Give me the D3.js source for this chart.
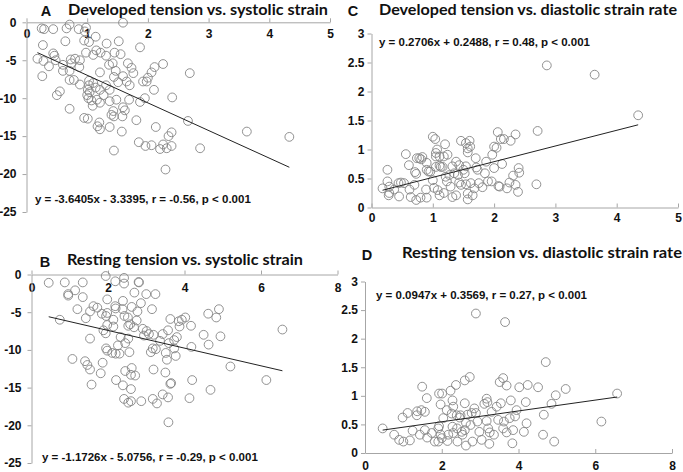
<!DOCTYPE html>
<html><head><meta charset="utf-8">
<script src="https://cdn.jsdelivr.net/npm/d3@7"></script>
<style>body{margin:0;background:#fff} svg{display:block}</style>
</head><body>
<svg id="c" width="683" height="472"></svg>
<script>
// Panel A: developed tension (x) vs systolic strain (y)
const devSys = [[0.25,-0.8],[0.29,-0.9],[0.44,-0.9],[0.71,-0.3],[0.66,-0.8],[0.86,-0.9],[0.98,-0.7],[0.96,-1.2],[1.59,-0.05],
[0.27,-3.0],[0.64,-2.5],[0.95,-2.4],[1.03,-2.6],[1.14,-1.9],[1.32,-2.8],[1.52,-2.5],[1.87,-3.3],[0.44,-4.1],[0.46,-4.4],[0.48,-5.0],
[0.18,-4.8],[0.28,-5.1],[0.37,-5.8],[0.60,-5.6],[0.60,-6.4],[0.73,-4.9],[0.74,-5.4],[0.80,-4.8],[0.88,-5.0],[0.87,-5.9],[0.71,-6.4],
[0.98,-4.0],[1.10,-4.3],[1.15,-3.7],[1.22,-4.0],[1.31,-4.4],[1.45,-4.0],[1.55,-4.2],[1.36,-5.6],[1.42,-5.4],[1.47,-6.4],[1.21,-6.6],
[1.67,-5.4],[1.73,-6.0],[1.76,-6.7],[1.59,-7.1],[1.44,-7.2],[1.65,-7.8],[1.51,-7.9],[1.70,-8.3],[2.11,-5.9],[2.25,-5.5],[2.69,-6.7],
[2.06,-6.6],[2.00,-7.3],[1.92,-7.8],[1.98,-7.8],[2.10,-8.9],[0.71,-7.6],[0.78,-7.6],[0.26,-7.1],[0.88,-8.2],[1.03,-7.7],[1.03,-8.3],
[1.10,-8.0],[1.01,-8.9],[1.04,-9.2],[1.14,-8.6],[1.21,-8.9],[1.31,-8.3],[1.37,-8.9],[1.27,-9.6],[0.55,-9.1],[0.50,-9.6],[1.00,-9.6],
[1.02,-10.0],[1.07,-10.3],[1.16,-10.2],[1.21,-10.6],[1.09,-11.0],[1.37,-10.4],[1.48,-10.2],[1.69,-10.2],[1.95,-10.0],[1.87,-10.5],
[2.40,-9.9],[0.71,-11.4],[1.43,-11.7],[1.59,-11.2],[1.62,-11.6],[1.40,-12.2],[1.44,-12.4],[1.58,-12.4],[0.95,-12.6],[1.01,-12.7],
[1.20,-13.2],[1.81,-12.9],[2.66,-13.0],[1.17,-13.7],[1.37,-13.8],[1.21,-14.1],[2.13,-13.8],[1.57,-14.4],[2.39,-14.5],[2.34,-15.0],
[3.63,-14.4],[4.33,-15.1],[1.85,-15.8],[1.96,-16.3],[2.06,-16.2],[2.25,-16.1],[2.31,-16.6],[2.39,-16.3],[2.20,-16.7],[1.44,-16.9],
[2.86,-16.6],[2.29,-19.4]];

// Panel B: resting tension (x) vs systolic strain (y)
const restSys = [[0.45,-1.1],[0.87,-1.05],[1.34,-1.05],[1.94,-0.2],[2.19,-0.9],[2.42,-0.45],[2.42,-1.2],[2.80,-1.0],[2.81,-1.05],
[1.14,-2.1],[0.96,-2.6],[0.96,-2.8],[1.34,-3.0],[1.20,-4.6],[1.62,-4.2],[1.72,-4.4],[1.53,-4.9],[1.42,-5.8],[0.74,-6.0],[1.98,-3.3],
[2.19,-4.2],[2.20,-4.5],[2.39,-3.5],[2.38,-4.6],[2.69,-2.4],[3.00,-2.6],[3.24,-2.6],[2.86,-3.8],[2.62,-4.3],[2.77,-4.9],[3.15,-4.6],
[1.84,-5.2],[1.98,-5.1],[1.95,-5.5],[2.14,-6.0],[2.43,-5.5],[2.52,-5.7],[2.58,-6.6],[2.53,-6.8],[2.75,-6.1],[2.68,-7.0],[2.14,-6.9],
[1.98,-6.7],[1.88,-7.4],[1.94,-7.8],[2.91,-7.2],[2.94,-8.1],[3.01,-7.5],[3.07,-7.9],[3.19,-8.0],[3.36,-8.8],[3.43,-7.9],[3.57,-7.4],
[3.63,-5.9],[3.73,-8.7],[3.80,-8.3],[3.87,-6.9],[3.85,-6.2],[3.93,-6.0],[4.02,-5.7],[4.17,-6.8],[4.50,-8.0],[4.62,-5.2],[4.63,-9.3],
[4.83,-5.7],[4.90,-4.6],[4.94,-8.2],[6.56,-7.3],[1.53,-8.5],[2.33,-8.3],[2.53,-8.5],[2.26,-9.4],[2.45,-9.1],[1.95,-9.8],[1.98,-10.1],
[2.11,-10.4],[2.20,-10.5],[2.30,-10.5],[2.56,-10.3],[3.12,-10.3],[3.17,-9.8],[3.25,-9.9],[3.51,-10.4],[3.59,-9.1],[3.73,-9.8],
[3.77,-10.8],[4.18,-9.6],[1.07,-11.2],[1.40,-11.5],[1.46,-12.0],[1.53,-12.6],[1.86,-11.7],[1.81,-13.1],[2.45,-12.8],[2.62,-12.4],
[2.60,-13.3],[2.71,-13.4],[3.19,-12.6],[3.54,-11.3],[3.50,-13.0],[5.20,-12.2],[1.57,-14.6],[2.21,-14.0],[2.39,-14.7],[2.60,-15.2],
[3.63,-14.5],[3.65,-14.4],[4.20,-14.0],[4.68,-15.3],[6.14,-14.0],[2.42,-16.5],[2.53,-17.0],[2.60,-16.8],[2.87,-16.8],[3.17,-16.5],
[3.28,-17.1],[3.43,-15.9],[3.57,-16.3],[4.13,-16.4],[3.58,-19.6]];

// Panel C: developed tension (x) vs diastolic strain rate (y)
const devDia = [[0.18,0.33],[0.26,0.65],[0.26,0.45],[0.29,0.36],[0.29,0.25],[0.28,0.21],[0.37,0.31],[0.44,0.42],[0.48,0.43],
[0.53,0.42],[0.45,0.19],[0.56,0.92],[0.61,0.73],[0.62,0.31],[0.64,0.18],[0.70,0.39],[0.71,0.61],[0.73,0.58],[0.74,0.85],[0.78,0.85],
[0.81,0.83],[0.83,0.87],[0.73,0.13],[0.80,0.17],[0.90,0.77],[0.90,0.65],[0.89,0.31],[0.90,0.17],[0.93,0.62],[0.96,0.62],[1.00,1.22],
[1.04,1.18],[1.05,0.94],[1.07,1.00],[1.05,0.88],[1.11,0.88],[1.00,0.47],[1.02,0.34],[1.05,0.70],[1.11,0.72],[1.13,0.70],[1.08,0.30],
[1.11,0.21],[1.18,0.25],[1.20,1.09],[1.18,0.88],[1.24,0.91],[1.16,0.70],[1.21,0.53],[1.23,0.45],[1.27,0.56],[1.29,0.36],[1.32,0.71],
[1.35,0.59],[1.38,0.79],[1.41,0.56],[1.32,0.18],[1.38,0.21],[1.43,0.73],[1.46,1.15],[1.43,0.43],[1.46,0.39],[1.50,0.65],[1.54,1.11],
[1.57,1.02],[1.60,1.15],[1.61,1.05],[1.57,0.95],[1.54,0.71],[1.52,0.59],[1.54,0.40],[1.57,0.24],[1.57,0.14],[1.62,0.42],[1.65,0.21],
[1.70,0.85],[1.71,0.69],[1.73,0.65],[1.68,0.33],[1.75,0.42],[1.81,0.35],[1.85,0.59],[1.87,0.79],[1.90,0.45],[1.96,0.45],[1.97,0.91],
[2.00,1.05],[2.04,1.03],[2.00,0.68],[2.06,1.30],[2.07,0.37],[2.09,0.36],[2.13,0.75],[2.11,1.18],[2.16,1.18],[2.21,0.33],[2.25,0.43],
[2.27,1.15],[2.31,0.55],[2.35,1.26],[2.35,0.39],[2.39,0.27],[2.40,0.68],[2.41,0.60],[2.69,0.40],[2.71,1.32],[2.86,2.45],[3.64,2.29],
[4.35,1.59]];

// Panel D: resting tension (x) vs diastolic strain rate (y)
const restDia = [[0.46,0.43],[0.76,0.32],[0.89,0.23],[1.00,0.20],[1.17,0.22],[0.98,0.62],[1.11,0.70],[1.24,0.39],[1.35,0.66],
[1.36,0.73],[1.47,0.75],[1.56,0.72],[1.49,1.16],[1.61,0.96],[1.43,0.32],[1.56,0.40],[1.62,0.27],[1.74,0.35],[1.82,0.20],[1.91,0.43],
[1.93,0.47],[1.97,0.32],[2.00,0.26],[1.91,0.20],[1.93,1.04],[2.01,1.04],[1.97,0.85],[2.04,0.61],[2.13,0.75],[2.17,0.32],[2.15,0.21],
[2.23,1.09],[2.28,0.92],[2.30,0.81],[2.26,0.69],[2.28,0.46],[2.30,0.35],[2.37,1.19],[2.39,0.66],[2.40,0.43],[2.41,0.20],[2.47,0.62],
[2.49,0.66],[2.52,0.37],[2.54,0.32],[2.60,0.87],[2.60,1.27],[2.63,0.53],[2.60,0.40],[2.63,0.13],[2.67,0.67],[2.73,1.33],[2.75,0.49],
[2.78,0.70],[2.80,0.20],[2.85,0.78],[2.89,0.70],[2.89,2.44],[2.93,0.55],[2.98,0.37],[3.04,0.23],[3.11,0.86],[3.17,0.95],[3.19,0.89],
[3.17,0.56],[3.21,0.43],[3.25,0.36],[3.24,0.16],[3.30,0.72],[3.36,0.32],[3.43,0.81],[3.47,0.58],[3.51,1.24],[3.54,0.87],[3.60,1.31],
[3.60,0.43],[3.62,0.55],[3.65,2.29],[3.69,1.18],[3.69,0.36],[3.77,0.61],[3.80,0.92],[3.84,0.17],[3.86,0.40],[3.91,0.64],[3.95,0.75],
[4.02,1.15],[4.14,0.37],[4.19,0.89],[4.21,0.52],[4.24,1.19],[4.51,1.15],[4.64,0.32],[4.66,0.67],[4.71,1.59],[4.86,0.86],[4.93,0.20],
[4.97,1.01],[5.23,1.12],[6.16,0.55],[6.57,1.04]];

const panelLetters = ["A", "B", "C", "D"];
const panelTitles = ["Developed tension vs. systolic strain", "Resting tension vs. systolic strain",
  "Developed tension vs. diastolic strain rate", "Resting tension vs. diastolic strain rate"];
const equations = ["y = -3.6405x - 3.3395, r = -0.56, p < 0.001", "y = -1.1726x - 5.0756, r = -0.29, p < 0.001",
  "y = 0.2706x + 0.2488, r = 0.48, p < 0.001", "y = 0.0947x + 0.3569, r = 0.27, p < 0.001"];
const slopes = [-3.6405, -1.1726, 0.2706, 0.0947];
const intercepts = [-3.3395, -5.0756, 0.2488, 0.3569];
const xTicksDev = [0, 1, 2, 3, 4, 5];
const xTicksRest = [0, 2, 4, 6, 8];
const yTicksSys = [0, -5, -10, -15, -20, -25];
const yTicksDia = [0, 0.5, 1, 1.5, 2, 2.5, 3];

const svg = d3.select("#c");
const AXIS = "#a6a6a6", MARK = "#858585";
const TICKFONT = "'Liberation Sans', Arial, sans-serif";

const panels = [
  {data: devSys, xd: [0,5], yd: [0,-25], xr: [26.5,330], yr: [22.3,212], xt: xTicksDev, yt: yTicksSys,
   xpad: 7, ypad: 6, letter: [46,16], title: [68,15,260], eq: [35,199]},
  {data: restSys, xd: [0,8], yd: [0,-25], xr: [31.5,337.5], yr: [274.5,463], xt: xTicksRest, yt: yTicksSys,
   xpad: 9, ypad: 6, letter: [45,267], title: [67,265,236], eq: [42,457]},
  {data: devDia, xd: [0,5], yd: [0,3], xr: [371.5,678], yr: [207.5,33.5], xt: xTicksDev, yt: yTicksDia,
   xpad: 6, ypad: 3, letter: [353,16], title: [379,15,298], eq: [379,42]},
  {data: restDia, xd: [0,8], yd: [0,3], xr: [365,672], yr: [453,281.5], xt: xTicksRest, yt: yTicksDia,
   xpad: 8, ypad: 3, letter: [367,260], title: [402,258,280], eq: [376,295]}
];

panels.forEach((p, i) => {
  const x = d3.scaleLinear().domain(p.xd).range(p.xr);
  const y = d3.scaleLinear().domain(p.yd).range(p.yr);
  const g = svg.append("g");
  const y0 = y(0);

  const xa = g.append("g").attr("transform", `translate(0,${y0})`)
    .call(d3.axisBottom(x).tickValues(p.xt).tickFormat(d => String(d)).tickSizeInner(-4).tickSizeOuter(0).tickPadding(p.xpad));
  const ya = g.append("g").attr("transform", `translate(${x(0)},0)`)
    .call(d3.axisLeft(y).tickValues(p.yt).tickFormat(d => String(d)).tickSizeInner(4).tickSizeOuter(0).tickPadding(p.ypad));
  [xa, ya].forEach(a => {
    a.selectAll("path,line").attr("stroke", AXIS).attr("stroke-width", 1);
    a.selectAll("text").attr("fill", "#111").style("font-family", TICKFONT).style("font-weight", "bold").style("font-size", "12px");
  });

  g.append("g").selectAll("circle").data(p.data).join("circle")
    .attr("cx", d => x(d[0])).attr("cy", d => y(d[1])).attr("r", 4.4)
    .attr("fill", "none").attr("stroke", MARK).attr("stroke-width", 0.9);

  const ext = d3.extent(p.data, d => d[0]);
  g.append("line")
    .attr("x1", x(ext[0])).attr("y1", y(slopes[i] * ext[0] + intercepts[i]))
    .attr("x2", x(ext[1])).attr("y2", y(slopes[i] * ext[1] + intercepts[i]))
    .attr("stroke", "#222").attr("stroke-width", 1);

  g.append("text").attr("x", p.letter[0]).attr("y", p.letter[1]).attr("text-anchor", "middle")
    .style("font-family", TICKFONT).style("font-weight", "bold").style("font-size", "14.5px").attr("fill", "#111")
    .text(panelLetters[i]);
  g.append("text").attr("x", p.title[0]).attr("y", p.title[1])
    .attr("textLength", p.title[2]).attr("lengthAdjust", "spacingAndGlyphs")
    .style("font-family", "Lato, 'Open Sans', sans-serif").style("font-weight", "bold").style("font-size", "15px").attr("fill", "#111")
    .text(panelTitles[i]);
  g.append("text").attr("x", p.eq[0]).attr("y", p.eq[1]).attr("dominant-baseline", "central")
    .style("font-family", TICKFONT).style("font-weight", "bold").style("font-size", "11.5px").attr("fill", "#111")
    .text(equations[i]);
});
</script>
</body></html>
